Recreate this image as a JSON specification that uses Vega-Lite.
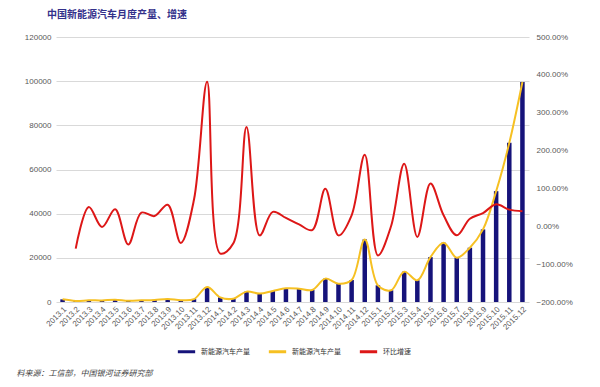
{
  "$schema": "https://vega.github.io/schema/vega-lite/v6.json",
  "width": 473,
  "height": 265,
  "autosize": {"type": "none"},
  "padding": {"left": 56, "top": 37, "right": 71, "bottom": 85},
  "background": "white",
  "title": {
    "text": "中国新能源汽车月度产量、增速",
    "anchor": "start",
    "frame": "group",
    "dx": -9,
    "offset": 13,
    "fontSize": 10,
    "font": "Noto Sans CJK SC",
    "fontWeight": "bold",
    "color": "#33308a"
  },
  "config": {
    "view": {"stroke": null},
    "font": "Liberation Sans"
  },
  "data": {
    "values": [
      {"month": "2013.1", "production": 1200, "mom": null},
      {"month": "2013.2", "production": 500, "mom": -59},
      {"month": "2013.3", "production": 750, "mom": 51},
      {"month": "2013.4", "production": 730, "mom": -2},
      {"month": "2013.5", "production": 1050, "mom": 45},
      {"month": "2013.6", "production": 550, "mom": -48},
      {"month": "2013.7", "production": 750, "mom": 36},
      {"month": "2013.8", "production": 950, "mom": 27},
      {"month": "2013.9", "production": 1400, "mom": 57},
      {"month": "2013.10", "production": 830, "mom": -44},
      {"month": "2013.11", "production": 1300, "mom": 70},
      {"month": "2013.12", "production": 6800, "mom": 382},
      {"month": "2014.1", "production": 2100, "mom": -72},
      {"month": "2014.2", "production": 1500, "mom": -45},
      {"month": "2014.3", "production": 4700, "mom": 262},
      {"month": "2014.4", "production": 3800, "mom": -24},
      {"month": "2014.5", "production": 5000, "mom": 38},
      {"month": "2014.6", "production": 6200, "mom": 22},
      {"month": "2014.7", "production": 6050, "mom": 5},
      {"month": "2014.8", "production": 5430, "mom": -10},
      {"month": "2014.9", "production": 10580, "mom": 99},
      {"month": "2014.10", "production": 8300, "mom": -24},
      {"month": "2014.11", "production": 9950, "mom": 29},
      {"month": "2014.12", "production": 28350, "mom": 189},
      {"month": "2015.1", "production": 7550, "mom": -77},
      {"month": "2015.2", "production": 5290, "mom": 0},
      {"month": "2015.3", "production": 13740, "mom": 165},
      {"month": "2015.4", "production": 9810, "mom": -28},
      {"month": "2015.5", "production": 20340, "mom": 113},
      {"month": "2015.6", "production": 26850, "mom": 29},
      {"month": "2015.7", "production": 20070, "mom": -24},
      {"month": "2015.8", "production": 24590, "mom": 20},
      {"month": "2015.9", "production": 32870, "mom": 35},
      {"month": "2015.10", "production": 50180, "mom": 58},
      {"month": "2015.11", "production": 72060, "mom": 44},
      {"month": "2015.12", "production": 99640, "mom": 40}
    ]
  },
  "encoding": {
    "x": {
      "field": "month",
      "type": "ordinal",
      "sort": null,
      "scale": {"paddingInner": 0, "paddingOuter": 0},
      "axis": {
        "title": "料来源：工信部，中国银河证券研究部",
        "titleX": -40,
        "titleY": 71,
        "titleAlign": "left",
        "titleBaseline": "middle",
        "titleFont": "Noto Sans CJK SC",
        "titleFontSize": 8,
        "titleFontStyle": "italic",
        "titleFontWeight": "normal",
        "titleColor": "#444444",
        "labelAngle": -45,
        "labelFontSize": 8,
        "labelColor": "#595959",
        "labelPadding": 3,
        "domain": false,
        "ticks": false
      }
    }
  },
  "layer": [
    {
      "layer": [
        {
          "mark": {"type": "bar", "size": 4.5},
          "encoding": {
            "y": {
              "field": "production",
              "type": "quantitative",
              "scale": {"domain": [0, 120000]},
              "axis": {
                "title": null,
                "values": [0, 20000, 40000, 60000, 80000, 100000, 120000],
                "format": "d",
                "domain": false,
                "ticks": false,
                "labelFontSize": 8,
                "labelColor": "#595959",
                "labelPadding": 5,
                "gridColor": "#d9d9d9"
              }
            },
            "color": {
              "datum": "新能源汽车产量",
              "scale": {
                "domain": ["新能源汽车产量", "新能源汽车产量 ", "环比增速"],
                "range": ["#16137a", "#f6c022", "#dd1717"]
              },
              "legend": {
                "title": null,
                "orient": "none",
                "direction": "horizontal",
                "legendX": 120,
                "legendY": 304,
                "symbolType": "stroke",
                "symbolSize": 300,
                "symbolStrokeWidth": 3,
                "labelFont": "Noto Sans CJK SC",
                "labelFontSize": 7,
                "labelColor": "#333333",
                "columnPadding": 12
              }
            }
          }
        },
        {
          "mark": {"type": "line", "interpolate": "catmull-rom", "strokeWidth": 2},
          "encoding": {
            "y": {"field": "production", "type": "quantitative"},
            "color": {"datum": "新能源汽车产量 "}
          }
        }
      ]
    },
    {
      "mark": {"type": "line", "interpolate": "catmull-rom", "strokeWidth": 2},
      "encoding": {
        "y": {
          "field": "mom",
          "type": "quantitative",
          "scale": {"domain": [-200, 500]},
          "axis": {
            "orient": "right",
            "title": null,
            "values": [-200, -100, 0, 100, 200, 300, 400, 500],
            "labelExpr": "format(datum.value, '.2f') + '%'",
            "grid": false,
            "domain": false,
            "ticks": false,
            "labelFontSize": 8,
            "labelColor": "#595959",
            "labelPadding": 7
          }
        },
        "color": {"datum": "环比增速"}
      }
    }
  ],
  "resolve": {"scale": {"y": "independent"}}
}
